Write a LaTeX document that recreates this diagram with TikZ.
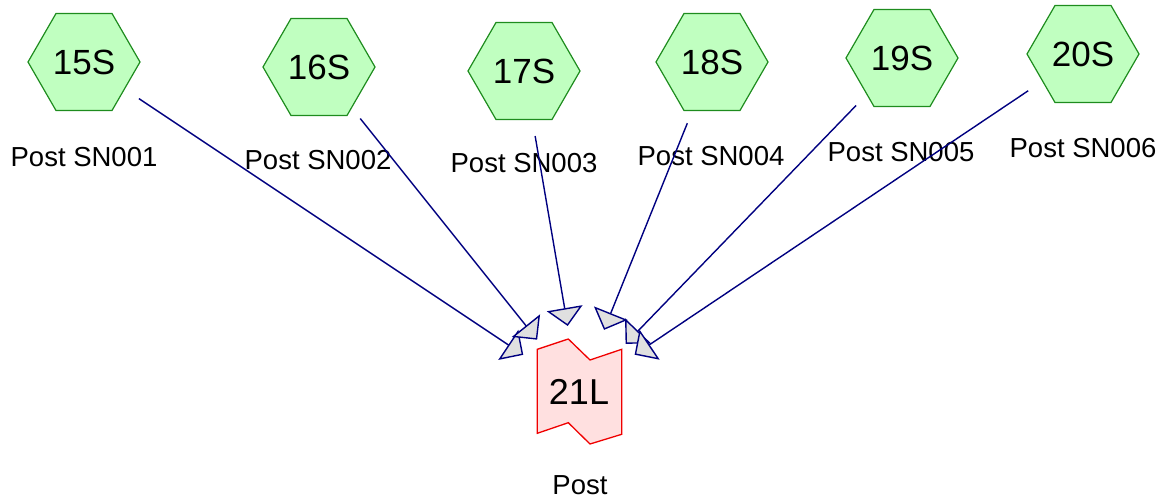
\documentclass[tikz,border=0pt]{standalone}
\usepackage{fontspec}
\setmainfont{Liberation Sans}
\usetikzlibrary{shapes.geometric,arrows.meta}
\definecolor{hexfill}{RGB}{192,255,192}
\definecolor{hexdraw}{RGB}{30,140,30}
\definecolor{lfill}{RGB}{255,224,224}
\definecolor{ldraw}{RGB}{240,0,0}
\definecolor{edgecol}{RGB}{0,0,128}
\definecolor{tipfill}{RGB}{224,224,224}
\tikzset{
  hexnode/.style={regular polygon,regular polygon sides=6,minimum size=112pt,inner sep=0pt,
    fill=hexfill,draw=hexdraw,line width=1.2pt,font=\fontsize{35}{40}\selectfont},
  caption/.style={font=\fontsize{27.5}{33}\selectfont,inner sep=0pt},
  edge/.style={draw=edgecol,line width=1.4pt,shorten <=66pt,shorten >=67pt,
    -{Triangle[width=36pt,length=18pt,fill=tipfill]}}
}
\begin{document}
\begin{tikzpicture}[x=1pt,y=-1pt]
\useasboundingbox (0,0) rectangle (1168,500);
\node[hexnode] (h15) at (84,62) {15S};
\node[hexnode] (h16) at (319,67) {16S};
\node[hexnode] (h17) at (524,71) {17S};
\node[hexnode] (h18) at (712,62) {18S};
\node[hexnode] (h19) at (902,58) {19S};
\node[hexnode] (h20) at (1083,54) {20S};
\node[caption] (c15) at (84,157) {Post SN001};
\node[caption] (c16) at (318,160) {Post SN002};
\node[caption] (c17) at (524,163) {Post SN003};
\node[caption] (c18) at (711,156) {Post SN004};
\node[caption] (c19) at (901,152) {Post SN005};
\node[caption] (c20) at (1083,148) {Post SN006};
\draw[fill=lfill,draw=ldraw,line width=1.3pt]
  (537.3,349.3) -- (568.3,339) -- (590,360) -- (621.7,349.3) -- (621.7,434.3)
  -- (590,444) -- (568.3,422.7) -- (537.3,433.3) -- cycle;
\node[font=\fontsize{36}{40}\selectfont,inner sep=0pt] (l21) at (579,392) {21L};
\node[caption] (c21) at (580,485) {Post};
\foreach \h in {h15,h16,h17,h18,h19,h20}
  \draw[edge] (\h.center) -- (l21.center);
\end{tikzpicture}
\end{document}
